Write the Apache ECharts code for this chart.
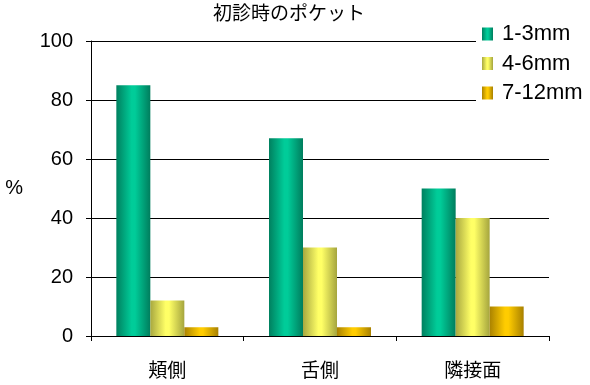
<!DOCTYPE html>
<html>
<head>
<meta charset="utf-8">
<script src="https://cdn.jsdelivr.net/npm/echarts@6/dist/echarts.min.js"></script>
<style>html,body{margin:0;padding:0;background:#fff}#c{width:590px;height:385px}</style>
</head>
<body>
<div id="c"></div>
<script>
const title = "初診時のポケット";
const categories = ["頬側", "舌側", "隣接面"];
const seriesNames = ["1-3mm", "4-6mm", "7-12mm"];
const values13 = [85, 67, 50];
const values46 = [12, 30, 40];
const values712 = [3, 3, 10];
const yTicks = [0, 20, 40, 60, 80, 100];

function grad(a, b, c) {
  return new echarts.graphic.LinearGradient(0, 0, 1, 0, [
    {offset: 0, color: a}, {offset: 0.45, color: b}, {offset: 0.55, color: b}, {offset: 1, color: c}
  ]);
}
const colors = [
  grad('#00805f', '#00cc99', '#007d5d'),
  grad('#a8a840', '#ffff66', '#a5a53e'),
  grad('#aa8200', '#ffcc00', '#a88000')
];
const latin = 'Liberation Sans, Arial, sans-serif';
const cjk = '"Noto Sans CJK JP", sans-serif';

const chart = echarts.init(document.getElementById('c'), null, {renderer: 'canvas'});
const data = [values13, values46, values712];
chart.setOption({
  animation: false,
  backgroundColor: '#fff',
  title: {text: title, left: 289, top: 3, textAlign: 'center', padding: 0,
    textStyle: {fontFamily: cjk, fontWeight: 'normal', fontSize: 19, color: '#000'}},
  legend: {orient: 'vertical', left: 476, top: 18, padding: [5, 10, 8, 6], backgroundColor: '#fff',
    z: 10, itemWidth: 11, itemHeight: 13, itemGap: 7.5,
    icon: 'rect',
    textStyle: {fontFamily: latin, fontSize: 22, color: '#000', lineHeight: 20, padding: [0, 0, 0, 4]},
    data: seriesNames},
  grid: {left: 91, right: 41, top: 41, bottom: 49, containLabel: false},
  xAxis: {type: 'category', data: categories,
    axisLine: {lineStyle: {color: '#000', width: 1}},
    axisTick: {show: true, length: 5, lineStyle: {color: '#000'}},
    axisLabel: {fontFamily: cjk, fontSize: 19, color: '#000', margin: 24}},
  yAxis: {type: 'value', min: yTicks[0], max: yTicks[yTicks.length - 1], interval: 20,
    name: '%', nameLocation: 'middle', nameRotate: 0, nameGap: 68,
    nameTextStyle: {fontFamily: latin, fontSize: 20, color: '#000'},
    axisLine: {show: true, lineStyle: {color: '#000', width: 1}},
    axisTick: {show: true, length: 5, lineStyle: {color: '#000'}},
    splitLine: {show: true, lineStyle: {color: '#000', width: 1}},
    axisLabel: {fontFamily: latin, fontSize: 20, color: '#000', margin: 18}},
  series: seriesNames.map((n, i) => ({
    name: n, type: 'bar', data: data[i], barWidth: 34, barGap: '0%',
    itemStyle: {color: colors[i]}
  }))
});
</script>
</body>
</html>
